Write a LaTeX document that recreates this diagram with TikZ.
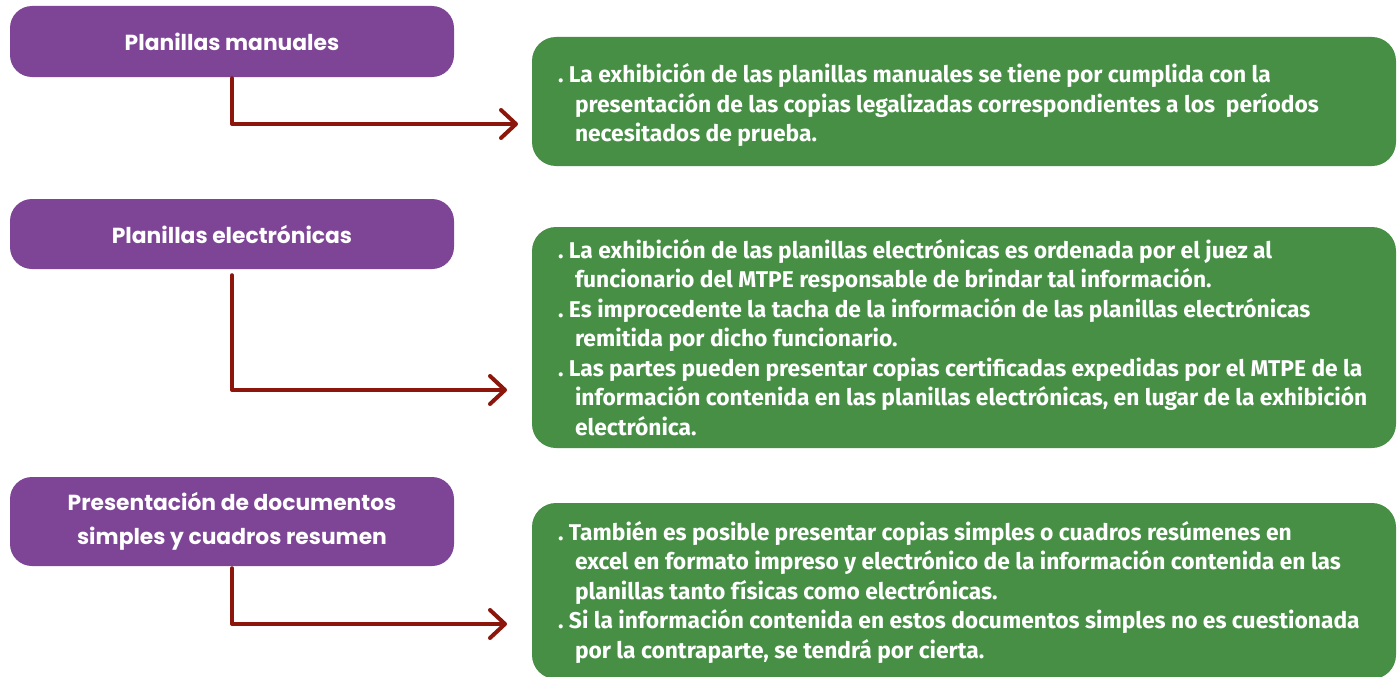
\documentclass[tikz,border=0pt]{standalone}
\usepackage{fontspec}
\usetikzlibrary{arrows.meta}
\newfontfamily\headfont{Poppins}
\newfontfamily\bodyfont{Fira Sans}
\definecolor{purplebox}{HTML}{7E4597}
\definecolor{greenbox}{HTML}{468F45}
\definecolor{arrowred}{HTML}{8C160C}
\newcommand{\bul}{\makebox[11pt][l]{.}}
\newcommand{\cont}{\hspace*{17pt}}
\begin{document}
\begin{tikzpicture}[x=1pt,y=-1pt,
  headbox/.style={fill=purplebox, rounded corners=22pt, minimum width=444pt, text=white,
    font=\headfont\bfseries\fontsize{21.8}{34}\selectfont, align=center, inner sep=0pt},
  infobox/.style={fill=greenbox, rounded corners=24pt, minimum width=864pt, inner sep=0pt},
  infotext/.style={text=white, font=\bodyfont\bfseries\fontsize{22.8}{29.5}\selectfont, align=left, inner sep=0pt, anchor=west},
  conn/.style={draw=arrowred, line width=4pt, line cap=round, line join=round,
    -{Straight Barb[length=15pt,width=28pt,round]}}
]
\useasboundingbox (0,0) rectangle (1397,677);
\begin{scope}
\clip (0,0) rectangle (1397,677);
% purple boxes
\node[headbox, minimum height=71pt] (p1) at (232,41.5) {Planillas manuales};
\node[headbox, minimum height=70pt] (p2) at (232,234) {Planillas electrónicas};
\node[headbox, minimum height=89pt] (p3) at (232,521.5) {Presentación de documentos\\simples y cuadros resumen};
% green boxes
\node[infobox, minimum height=129pt] (g1) at (964,101.5) {};
\node[infobox, minimum height=221pt] (g2) at (964,337.5) {};
\node[infobox, minimum height=176pt] (g3) at (964,591) {};
\end{scope}
% texts
\node[infotext] (t1) at ([xshift=26pt,yshift=-4pt]g1.west) {\bul La exhibición de las planillas manuales se tiene por cumplida con la\\
\cont presentación de las copias legalizadas correspondientes a los \ períodos\\
\cont necesitados de prueba.};
\node[infotext] (t2) at ([xshift=26pt,yshift=0pt]g2.west) {\bul La exhibición de las planillas electrónicas es ordenada por el juez al\\
\cont funcionario del MTPE responsable de brindar tal información.\\
\bul Es improcedente la tacha de la información de las planillas electrónicas\\
\cont remitida por dicho funcionario.\\
\bul Las partes pueden presentar copias certificadas expedidas por el MTPE de la\\
\cont información contenida en las planillas electrónicas, en lugar de la exhibición\\
\cont electrónica.};
\node[infotext] (t3) at ([xshift=26pt,yshift=-1.5pt]g3.west) {\bul También es posible presentar copias simples o cuadros resúmenes en\\
\cont excel en formato impreso y electrónico de la información contenida en las\\
\cont planillas tanto físicas como electrónicas.\\
\bul Si la información contenida en estos documentos simples no es cuestionada\\
\cont por la contraparte, se tendrá por cierta.};
% connectors
\coordinate (a1) at (518,124);
\coordinate (a2) at (507,390);
\coordinate (a3) at (507,624);
\draw[conn, shorten <=1pt] (p1.south) |- (a1);
\draw[conn, shorten <=6pt] (p2.south) |- (a2);
\draw[conn, shorten <=2pt] (p3.south) |- (a3);
\end{tikzpicture}
\end{document}
